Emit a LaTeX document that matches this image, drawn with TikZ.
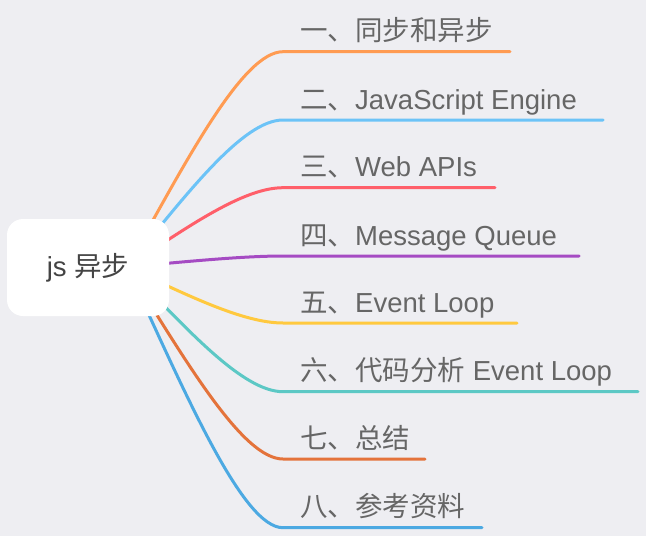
\documentclass[tikz,border=0pt]{standalone}
\usepackage{fontspec}
\setmainfont{Liberation Sans}
\newfontfamily\cjk{Noto Sans CJK SC}
\definecolor{bg}{HTML}{EEEEF2}
\definecolor{cA}{HTML}{FF9B52}
\definecolor{cB}{HTML}{6CC3F7}
\definecolor{cC}{HTML}{FF5F6A}
\definecolor{cD}{HTML}{A54BC3}
\definecolor{cE}{HTML}{FFC93F}
\definecolor{cF}{HTML}{5CC8C5}
\definecolor{cG}{HTML}{E4733B}
\definecolor{cH}{HTML}{4CA9E2}
\definecolor{txt}{HTML}{666666}
\definecolor{roottxt}{HTML}{444444}
\tikzset{
  branchline/.style={line width=3pt, line cap=round},
  branchtext/.style={anchor=base west, inner sep=0pt, text=txt, font=\fontsize{27.5}{30}\selectfont},
  rootbox/.style={fill=white, rounded corners=16pt, minimum width=162pt, minimum height=97pt, inner sep=0pt, text=roottxt, font=\fontsize{27.5}{30}\selectfont}
}
\begin{document}
\begin{tikzpicture}[x=1pt,y=-1pt]
\fill[bg] (0,0) rectangle (646,536);
\useasboundingbox (0,0) rectangle (646,536);
\coordinate (s) at (127,267);
\foreach \n/\y/\x/\c/\t in {
  1/51.7/510/cA/{{\cjk 一、同步和异步}},
  2/120/603/cB/{{\cjk 二、}JavaScript Engine},
  3/187.7/495/cC/{{\cjk 三、}Web APIs},
  4/256/579/cD/{{\cjk 四、}Message Queue},
  5/323/517/cE/{{\cjk 五、}Event Loop},
  6/391.7/638/cF/{{\cjk 六、代码分析} Event Loop},
  7/459/425/cG/{{\cjk 七、总结}},
  8/527.7/482/cH/{{\cjk 八、参考资料}}}{
  \pgfmathsetmacro\cy{267+0.5*(\y-267)}
  \coordinate (e\n) at (283,\y);
  \coordinate (u\n) at (\x,\y);
  \coordinate (p\n) at (187,\cy);
  \coordinate (q\n) at (243,\y);
  \draw[branchline, draw=\c] (s) .. controls (p\n) and (q\n) .. (e\n) -- (u\n);
  \node[branchtext] (t\n) at (300,\y-11) {\t};
}
\node[rootbox] (r) at (88,267.5) {js {\cjk 异步}};
\end{tikzpicture}
\end{document}
